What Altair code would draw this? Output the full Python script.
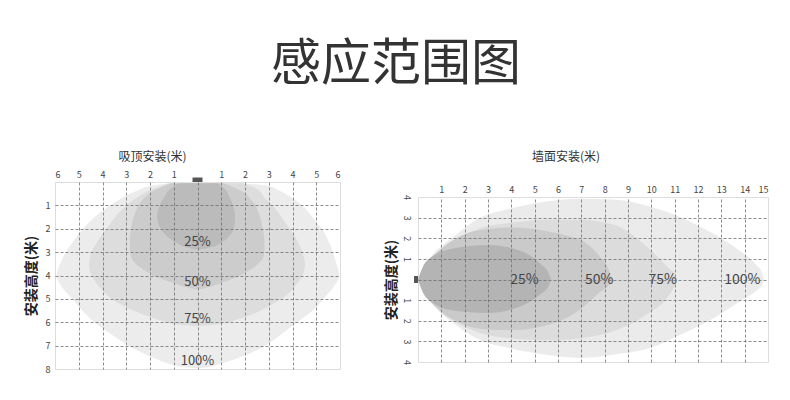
import altair as alt
import pandas as pd

FONT = "Noto Sans CJK SC"

# ---------------- Left panel: ceiling mount (吸顶安装) ----------------
# each zone: depth y (m), left edge x, right edge x
L100_y = [0.03, 0.15, 0.4, 0.8, 1.2, 1.65, 2.1, 2.5, 3.0, 3.5, 4.0, 4.5, 5.0, 5.5, 6.0, 6.5, 7.0, 7.5, 7.8, 7.93, 7.97]
L100_xl = [-1.0, -1.9, -2.6, -3.37, -3.95, -4.49, -4.9, -5.2, -5.55, -5.78, -5.93, -5.7, -5.27, -4.85, -4.35, -3.65, -2.9, -1.9, -1.1, -0.5, 0]
L100_xr = [1.5, 2.9, 3.5, 4.15, 4.6, 4.95, 5.3, 5.5, 5.7, 5.85, 5.97, 5.72, 5.3, 4.85, 4.2, 3.55, 2.85, 1.8, 0.9, 0.45, 0]

L75_y = [0.05, 0.3, 0.7, 1.1, 1.6, 2.1, 2.6, 3.1, 3.6, 4.0, 4.4, 4.8, 5.2, 5.6, 5.9, 6.1, 6.17]
L75_xl = [-1.2, -1.9, -2.6, -3.1, -3.55, -3.9, -4.25, -4.5, -4.57, -4.45, -4.2, -3.85, -3.3, -2.45, -1.6, -0.8, 0]
L75_xr = [1.9, 2.5, 2.85, 3.25, 3.6, 3.95, 4.25, 4.45, 4.52, 4.42, 4.15, 3.8, 3.2, 2.45, 1.6, 0.8, 0]

L50_y = [0.05, 0.3, 0.8, 1.4, 2.0, 2.6, 3.1, 3.5, 3.8, 4.1, 4.35, 4.52, 4.6]
L50_xl = [-1.1, -1.7, -2.35, -2.65, -2.8, -2.85, -2.82, -2.6, -2.2, -1.65, -0.9, -0.4, 0]
L50_xr = [1.1, 1.7, 2.3, 2.6, 2.75, 2.82, 2.8, 2.55, 2.15, 1.6, 0.9, 0.4, 0]

L25_y = [0.05, 0.3, 0.65, 1.0, 1.5, 1.9, 2.3, 2.6, 2.8, 2.9]
L25_xl = [-0.8, -1.15, -1.4, -1.6, -1.7, -1.6, -1.3, -0.9, -0.45, 0]
L25_xr = [0.85, 1.15, 1.35, 1.5, 1.58, 1.55, 1.35, 1.0, 0.55, 0]

L_label_text = ["25%", "50%", "75%", "100%"]
L_label_x = [0, 0, 0, 0]
L_label_y = [2.55, 4.29, 5.85, 7.64]

# ---------------- Right panel: wall mount (墙面安装) ----------------
R100_x = [0, 0.3, 0.7, 1.5, 2.5, 4, 5.5, 7, 8.5, 10, 11.3, 12.7, 13.8, 14.5, 14.75, 14.82]
R100_top = [0, 0.7, 1.3, 2.05, 2.9, 3.45, 3.78, 3.92, 3.87, 3.52, 3.0, 2.19, 1.38, 0.7, 0.3, 0]
R100_bot = [0, -0.7, -1.3, -2.1, -2.85, -3.35, -3.65, -3.8, -3.63, -3.3, -2.66, -1.85, -1.05, -0.55, -0.25, 0]

R75_x = [0, 0.3, 0.8, 1.5, 2.7, 4, 5.5, 7, 8.4, 9.8, 10.7, 11.0, 11.1]
R75_top = [0, 0.6, 1.2, 1.8, 2.5, 2.75, 2.9, 2.9, 2.65, 1.6, 0.6, 0.25, 0]
R75_bot = [0, -0.7, -1.4, -2.0, -2.6, -2.85, -2.95, -2.85, -2.5, -1.7, -0.85, -0.3, 0]

R50_x = [0, 0.3, 0.8, 2, 3, 4.1, 5.2, 6.3, 7.0, 7.8, 8.2, 8.3]
R50_top = [0, 0.7, 1.3, 2.2, 2.45, 2.52, 2.4, 2.15, 1.9, 1.1, 0.4, 0]
R50_bot = [0, -0.7, -1.35, -2.2, -2.42, -2.45, -2.3, -1.9, -1.4, -0.6, -0.25, 0]

R25_x = [0, 0.2, 0.6, 1.5, 3, 4.4, 5.2, 5.6, 5.7]
R25_top = [0, 0.6, 1.1, 1.5, 1.67, 1.4, 0.8, 0.3, 0]
R25_bot = [0, -0.6, -1.1, -1.5, -1.62, -1.3, -0.75, -0.3, 0]

R_label_text = ["25%", "50%", "75%", "100%"]
R_label_x = [4.56, 7.77, 10.49, 13.9]
R_label_y = [0, 0, 0, 0]

sensor_x = [0]
sensor_y = [0]

# ---------------- shared styling ----------------
LEFT_COLORS = ["#ececec", "#dddddd", "#cccccc", "#bbbbbb"]
RIGHT_COLORS = ["#ebebeb", "#dcdcdc", "#cacaca", "#b4b4b4"]

grid_opacity_lx = {"condition": {"test": "abs(datum.value) >= 6", "value": 0}, "value": 1}
grid_opacity_ly = {"condition": {"test": "datum.value <= 0 || datum.value >= 8", "value": 0}, "value": 1}
grid_opacity_rx = {"condition": {"test": "datum.value <= 0 || datum.value >= 15", "value": 0}, "value": 1}
grid_opacity_ry = {"condition": {"test": "abs(datum.value) >= 4", "value": 0}, "value": 1}

common_axis = dict(grid=True, gridDash=[3, 2], gridColor="#6f6f6f", gridWidth=0.8,
                   ticks=False, domain=False, labelFontSize=9, labelColor="#444",
                   labelFont=FONT, zindex=1)

lx_axis = alt.Axis(orient="top", values=list(range(-6, 7)),
                   labelExpr="datum.value == 0 ? '' : abs(datum.value)",
                   labelPadding=3, title=None, gridOpacity=grid_opacity_lx, **common_axis)
ly_axis = alt.Axis(orient="left", values=list(range(0, 9)),
                   labelExpr="datum.value == 0 ? '' : datum.value",
                   labelPadding=5, title="安装高度(米)", titleFontSize=14,
                   titleFontWeight="bold", titleColor="#222", titleFont=FONT,
                   titlePadding=7, gridOpacity=grid_opacity_ly, **common_axis)

rx_axis = alt.Axis(orient="top", values=list(range(0, 16)),
                   labelExpr="datum.value == 0 ? '' : datum.value",
                   labelPadding=3, title=None, gridOpacity=grid_opacity_rx, **common_axis)
ry_axis = alt.Axis(orient="left", values=list(range(-4, 5)),
                   labelExpr="datum.value == 0 ? '' : abs(datum.value)",
                   labelAngle=90, labelAlign="center", labelBaseline="middle",
                   labelPadding=12, title="安装高度(米)", titleFontSize=14,
                   titleFontWeight="bold", titleColor="#222", titleFont=FONT,
                   titlePadding=3, gridOpacity=grid_opacity_ry, **common_axis)

lx_scale = alt.Scale(domain=[-6, 6], nice=False, zero=False)
ly_scale = alt.Scale(domain=[0, 8], nice=False, zero=False, reverse=True)
rx_scale = alt.Scale(domain=[0, 15], nice=False, zero=False)
ry_scale = alt.Scale(domain=[-4, 4], nice=False, zero=False)


def left_zone(y, xl, xr, color):
    df = pd.DataFrame({"y": y, "xl": xl, "xr": xr})
    return alt.Chart(df).mark_area(orient="horizontal", interpolate="monotone",
                                   color=color, opacity=1).encode(
        y=alt.Y("y:Q", scale=ly_scale, axis=ly_axis),
        x=alt.X("xl:Q", scale=lx_scale, axis=lx_axis),
        x2="xr:Q",
    )


def right_zone(x, top, bot, color):
    df = pd.DataFrame({"x": x, "top": top, "bot": bot})
    return alt.Chart(df).mark_area(orient="vertical", interpolate="monotone",
                                   color=color, opacity=1).encode(
        x=alt.X("x:Q", scale=rx_scale, axis=rx_axis),
        y=alt.Y("top:Q", scale=ry_scale, axis=ry_axis),
        y2="bot:Q",
    )


def spacer():
    # invisible 1px strip so both panels are aligned on their title tops
    return alt.Chart(pd.DataFrame({"v": [0]})).mark_point(opacity=0, size=1).encode(
        x=alt.X("v:Q", axis=None), y=alt.Y("v:Q", axis=None)
    ).properties(width=1, height=1, view=alt.ViewBackground(strokeOpacity=0))


left_labels = alt.Chart(pd.DataFrame({"x": L_label_x, "y": L_label_y, "t": L_label_text})).mark_text(
    font=FONT, fontSize=13, color="#444").encode(
    x=alt.X("x:Q", scale=lx_scale, axis=lx_axis),
    y=alt.Y("y:Q", scale=ly_scale, axis=ly_axis),
    text="t:N")

right_labels = alt.Chart(pd.DataFrame({"x": R_label_x, "y": R_label_y, "t": R_label_text})).mark_text(
    font=FONT, fontSize=14, color="#444").encode(
    x=alt.X("x:Q", scale=rx_scale, axis=rx_axis),
    y=alt.Y("y:Q", scale=ry_scale, axis=ry_axis),
    text="t:N")

left_sensor = alt.Chart(pd.DataFrame({"x": sensor_x, "y": sensor_y})).mark_point(
    shape="M-1,-0.9L1,-0.9L1,0L-1,0Z", size=100, filled=True, color="#555", opacity=1).encode(
    x=alt.X("x:Q", scale=lx_scale, axis=lx_axis),
    y=alt.Y("y:Q", scale=ly_scale, axis=ly_axis))

right_sensor = alt.Chart(pd.DataFrame({"x": sensor_x, "y": sensor_y})).mark_point(
    shape="M-0.8,-0.7L0,-0.7L0,0.7L-0.8,0.7Z", size=100, filled=True, color="#555", opacity=1).encode(
    x=alt.X("x:Q", scale=rx_scale, axis=rx_axis),
    y=alt.Y("y:Q", scale=ry_scale, axis=ry_axis))

left = alt.layer(
    left_zone(L100_y, L100_xl, L100_xr, LEFT_COLORS[0]),
    left_zone(L75_y, L75_xl, L75_xr, LEFT_COLORS[1]),
    left_zone(L50_y, L50_xl, L50_xr, LEFT_COLORS[2]),
    left_zone(L25_y, L25_xl, L25_xr, LEFT_COLORS[3]),
    left_labels,
    left_sensor,
).properties(
    width=285, height=187,
    title=alt.Title("吸顶安装(米)", fontSize=12, fontWeight="normal", color="#333",
                    font=FONT, anchor="middle", frame="group", dx=-45, offset=6),
)

right = alt.layer(
    right_zone(R100_x, R100_top, R100_bot, RIGHT_COLORS[0]),
    right_zone(R75_x, R75_top, R75_bot, RIGHT_COLORS[1]),
    right_zone(R50_x, R50_top, R50_bot, RIGHT_COLORS[2]),
    right_zone(R25_x, R25_top, R25_bot, RIGHT_COLORS[3]),
    right_labels,
    right_sensor,
).properties(
    width=350, height=165,
    title=alt.Title("墙面安装(米)", fontSize=12, fontWeight="normal", color="#333",
                    font=FONT, anchor="middle", frame="group", dx=-27, offset=21),
)

chart = alt.hconcat(
    alt.vconcat(spacer(), left, spacing=0),
    alt.vconcat(spacer(), right, spacing=0),
    spacing=42,
).properties(
    title=alt.Title("感应范围图", fontSize=50, fontWeight="normal", color="#333",
                    font=FONT, anchor="middle", offset=59),
    padding={"left": 15, "top": 32, "right": 5, "bottom": 5},
).configure_view(stroke="#8a8a8a", strokeWidth=1).configure(background="white")

chart.save("out.html", embed_options={"renderer": "svg", "actions": False})
